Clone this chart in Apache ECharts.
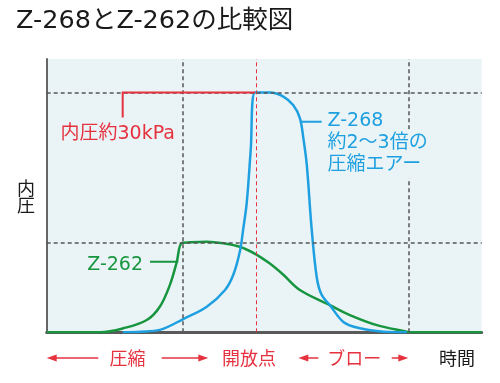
<!DOCTYPE html>
<html><head><meta charset="utf-8">
<script src="https://cdn.jsdelivr.net/npm/echarts@6/dist/echarts.min.js"></script>
<style>html,body{margin:0;padding:0;background:#fff}#c{width:500px;height:383px}</style>
</head><body><div id="c"></div>
<script>
// ---- text ----
const titleText = 'Z-268とZ-262の比較図';
const yAxisName = '内\n圧';
const xAxisName = '時間';
const phaseLabels = ['圧縮', '開放点', 'ブロー'];
const phaseLabelX = [18.6, 46.5, 70.7];
const z268Name = 'Z-268';
const z262Name = 'Z-262';
const z268Note = '約2〜3倍の\n圧縮エアー';
const pressureNote = '内圧約30kPa';

// ---- data: time (arbitrary units 0-100), internal pressure (kPa) ----
const z268Time = [17.5, 21.5, 26.0, 31.4, 36.8, 41.0, 42.9, 44.4, 45.2, 46.0, 46.9, 47.9, 51.3, 54.4, 56.7, 58.2, 59.0, 59.8, 60.9, 62.1, 63.2, 65.1, 68.2, 72.0, 77.4, 82.8];
const z268Pressure = [0, 0.08, 0.3, 1.66, 3.2, 5.3, 7.2, 10.1, 13.0, 16.3, 22.8, 30, 30, 29.5, 28.4, 26.8, 24.3, 20.9, 13.0, 6.8, 4.7, 3.4, 1.3, 0.5, 0.08, 0];
const z262Time = [0, 12.3, 17.6, 23.0, 26.0, 28.3, 29.9, 31.0, 32.9, 36.8, 40.6, 44.4, 48.3, 51.3, 54.4, 58.2, 65.1, 69.7, 75.9, 82.8, 83.3, 100];
const z262Pressure = [0, 0, 0.5, 1.54, 3.2, 5.9, 8.8, 11.15, 11.26, 11.34, 11.14, 10.7, 9.7, 8.6, 7.2, 5.3, 3.4, 2.16, 0.9, 0.08, 0, 0];
const phaseBoundaries = [31.3, 48.1, 83.3]; // compression end, release point, blow end
const levelLines = [30, 11.15];             // Z-268 peak, Z-262 peak

const RED = '#e6323e', BLUE = '#1ea0e0', GREEN = '#17963f', GRIDC = '#555', BG = '#eaf4f7';
const FONT = '"DejaVu Sans", "Noto Sans CJK JP", sans-serif';
const FONT_JP = '"Noto Sans CJK JP", sans-serif';

const zip = (a, b) => a.map((v, i) => [v, b[i]]);
const dash = { color: GRIDC, type: [4, 3], width: 1.5 };

const chart = echarts.init(document.getElementById('c'));
chart.setOption({
  animation: false,
  grid: { left: 46.7, right: 18.3, top: 59, bottom: 50.7, show: true, backgroundColor: BG, borderWidth: 0 },
  xAxis: { type: 'value', min: 0, max: 100, axisLine: { show: true, onZero: false, lineStyle: { color: '#5a5a5a', width: 3 } },
    axisTick: { show: false }, axisLabel: { show: false }, splitLine: { show: false } },
  yAxis: { type: 'value', min: 0, max: 34.2, axisLine: { show: true, lineStyle: { color: '#666', width: 2 } },
    axisTick: { show: false }, axisLabel: { show: false }, splitLine: { show: false } },
  series: [
    { type: 'line', data: [[0, 0]], symbol: 'none', lineStyle: { opacity: 0 }, silent: true, z: 1,
      markLine: { silent: true, symbol: 'none', label: { show: false }, animation: false,
        data: [
          { xAxis: phaseBoundaries[0], lineStyle: dash },
          { xAxis: phaseBoundaries[1], lineStyle: { color: RED, type: [4, 3], width: 1 } },
          { xAxis: phaseBoundaries[2], lineStyle: dash },
          { yAxis: levelLines[0], lineStyle: dash },
          { yAxis: levelLines[1], lineStyle: dash }
        ] } },
    { name: z262Name, type: 'line', data: zip(z262Time, z262Pressure), smooth: 0.35,
      symbol: 'none', lineStyle: { color: GREEN, width: 2.5 }, z: 3 },
    { name: z268Name, type: 'line', data: zip(z268Time, z268Pressure), smooth: 0.35,
      symbol: 'none', lineStyle: { color: BLUE, width: 2.5 }, z: 4 }
  ]
});

const p = (x, y) => chart.convertToPixel({ gridIndex: 0 }, [x, y]);
const px = x => p(x, 0)[0];
const ROW = 358;
function arrow(x1, x2, headAtLeft) {
  const a = px(x1), b = px(x2);
  const tip = headAtLeft ? a : b, dir = headAtLeft ? 1 : -1;
  return [
    { type: 'line', shape: { x1: headAtLeft ? a + 8 : a, y1: ROW, x2: headAtLeft ? b : b - 8, y2: ROW }, style: { stroke: RED, lineWidth: 1.5 }, z: 10 },
    { type: 'polygon', shape: { points: [[tip, ROW], [tip + dir * 10, ROW - 3.5], [tip + dir * 10, ROW + 3.5]] }, style: { fill: RED }, z: 10 }
  ];
}
const leaderRed = [p(17.47, 26.87), p(17.47, levelLines[0]), p(47.9, levelLines[0])];
const lb1 = p(58.62, 26.35), lb2 = p(63.22, 26.35);
const lg1 = p(23.75, 8.83), lg2 = p(30.25, 8.83);

const graphics = [
  { type: 'text', style: { text: titleText, x: 16, y: 21, verticalAlign: 'middle', fill: '#1a1a1a', fontSize: 25.5, fontFamily: FONT } },
  { type: 'text', style: { text: yAxisName, x: 26, y: 197, align: 'center', verticalAlign: 'middle', fill: '#1a1a1a', fontSize: 18, lineHeight: 17, fontFamily: FONT_JP } },
  { type: 'polyline', shape: { points: leaderRed }, style: { stroke: RED, lineWidth: 2, fill: null }, z: 8 },
  { type: 'text', style: { text: pressureNote, x: 60.5, y: 134, verticalAlign: 'middle', fill: RED, fontSize: 19, fontFamily: FONT }, z: 8 },
  { type: 'line', shape: { x1: lb1[0], y1: lb1[1], x2: lb2[0], y2: lb2[1] }, style: { stroke: BLUE, lineWidth: 2 }, z: 8 },
  { type: 'text', style: { text: z268Name, x: 327.5, y: 121, verticalAlign: 'middle', fill: BLUE, fontSize: 19, fontFamily: FONT }, z: 8 },
  { type: 'text', style: { text: z268Note, x: 327.5, y: 154, verticalAlign: 'middle', fill: BLUE, fontSize: 19, lineHeight: 22.5, fontFamily: FONT, backgroundColor: BG, padding: [2, 2, 2, 0] }, z: 8 },
  { type: 'line', shape: { x1: lg1[0], y1: lg1[1], x2: lg2[0], y2: lg2[1] }, style: { stroke: GREEN, lineWidth: 2 }, z: 8 },
  { type: 'text', style: { text: z262Name, x: 143, y: 265, align: 'right', verticalAlign: 'middle', fill: GREEN, fontSize: 19, fontFamily: FONT }, z: 8 },
  ...arrow(0, 11.86, true),
  ...arrow(26.44, 37.15, false),
  ...arrow(57.84, 62.44, true),
  ...arrow(79.31, 83.13, false),
  ...phaseLabels.map((t, i) => ({ type: 'text', style: { text: t, x: px(phaseLabelX[i]), y: ROW, align: 'center', verticalAlign: 'middle', fill: RED, fontSize: 18, fontFamily: FONT_JP }, z: 10 })),
  { type: 'text', style: { text: xAxisName, x: px(94.3), y: ROW, align: 'center', verticalAlign: 'middle', fill: '#1a1a1a', fontSize: 18, fontFamily: FONT_JP }, z: 10 }
];
chart.setOption({ graphic: graphics });
</script></body></html>
